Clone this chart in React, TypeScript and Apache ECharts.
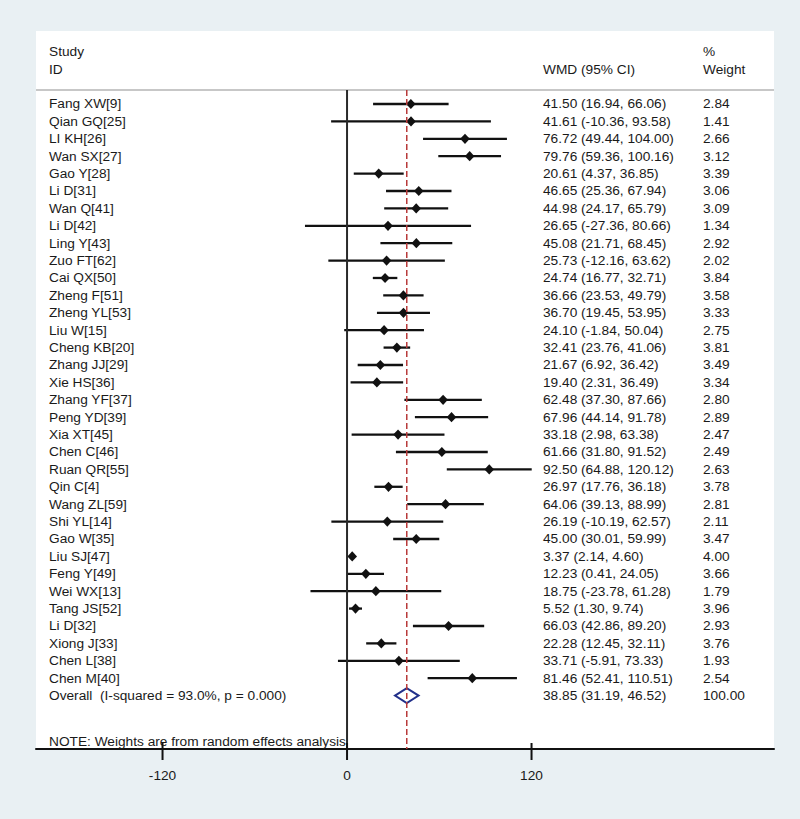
import React, { useEffect, useRef } from "react";
import * as echarts from "echarts";

const studies = [
  "Fang XW[9]", "Qian GQ[25]", "LI KH[26]", "Wan SX[27]", "Gao Y[28]", "Li D[31]",
  "Wan Q[41]", "Li D[42]", "Ling Y[43]", "Zuo FT[62]", "Cai QX[50]", "Zheng F[51]",
  "Zheng YL[53]", "Liu W[15]", "Cheng KB[20]", "Zhang JJ[29]", "Xie HS[36]", "Zhang YF[37]",
  "Peng YD[39]", "Xia XT[45]", "Chen C[46]", "Ruan QR[55]", "Qin C[4]", "Wang ZL[59]",
  "Shi YL[14]", "Gao W[35]", "Liu SJ[47]", "Feng Y[49]", "Wei WX[13]", "Tang JS[52]",
  "Li D[32]", "Xiong J[33]", "Chen L[38]", "Chen M[40]",
];
const wmd = [
  41.5, 41.61, 76.72, 79.76, 20.61, 46.65, 44.98, 26.65, 45.08, 25.73, 24.74, 36.66,
  36.7, 24.1, 32.41, 21.67, 19.4, 62.48, 67.96, 33.18, 61.66, 92.5, 26.97, 64.06,
  26.19, 45.0, 3.37, 12.23, 18.75, 5.52, 66.03, 22.28, 33.71, 81.46,
];
const lower = [
  16.94, -10.36, 49.44, 59.36, 4.37, 25.36, 24.17, -27.36, 21.71, -12.16, 16.77, 23.53,
  19.45, -1.84, 23.76, 6.92, 2.31, 37.3, 44.14, 2.98, 31.8, 64.88, 17.76, 39.13,
  -10.19, 30.01, 2.14, 0.41, -23.78, 1.3, 42.86, 12.45, -5.91, 52.41,
];
const upper = [
  66.06, 93.58, 104.0, 100.16, 36.85, 67.94, 65.79, 80.66, 68.45, 63.62, 32.71, 49.79,
  53.95, 50.04, 41.06, 36.42, 36.49, 87.66, 91.78, 63.38, 91.52, 120.12, 36.18, 88.99,
  62.57, 59.99, 4.6, 24.05, 61.28, 9.74, 89.2, 32.11, 73.33, 110.51,
];
const weights = [
  2.84, 1.41, 2.66, 3.12, 3.39, 3.06, 3.09, 1.34, 2.92, 2.02, 3.84, 3.58,
  3.33, 2.75, 3.81, 3.49, 3.34, 2.8, 2.89, 2.47, 2.49, 2.63, 3.78, 2.81,
  2.11, 3.47, 4.0, 3.66, 1.79, 3.96, 2.93, 3.76, 1.93, 2.54,
];
const overallLabel = "Overall  (I-squared = 93.0%, p = 0.000)";
const overallWmd = 38.85;
const overallLower = 31.19;
const overallUpper = 46.52;
const overallWeight = 100.0;
const noteText = "NOTE: Weights are from random effects analysis";
const xTicks = [-120, 0, 120];

const FONT = "'Liberation Sans', Arial, Helvetica, sans-serif";
const FS = 13.7;
const TXT = "#1a1a1a";
const X_MIN = -202.3;
const X_MAX = 277.7;
const Y_MIN = -4.195;
const Y_MAX = 37.07;
const HEADER_ROW = -0.8;
const NOTE_ROW = 36.62;
const COL_STUDY = 49;
const COL_WMD = 543;
const COL_W = 703;

const fmt = (v: number) => v.toFixed(2);

function txt(x: number, y: number, text: string) {
  return {
    type: "text",
    x,
    y,
    silent: true,
    style: {
      text,
      fill: TXT,
      fontSize: FS,
      fontFamily: FONT,
      align: "left",
      verticalAlign: "middle",
    },
  };
}

export default function App() {
  const ref = useRef<HTMLDivElement>(null);
  useEffect(() => {
    if (!ref.current) return;
    const chart = echarts.init(ref.current, undefined, { renderer: "svg" });
    const studyData = studies.map((_, i) => [i, lower[i], upper[i], wmd[i]]);
    const overallRow = studies.length;

    chart.setOption({
      animation: false,
      backgroundColor: "#e9f0f3",
      grid: {
        left: 36,
        right: 26,
        top: 31,
        bottom: 70,
        show: true,
        backgroundColor: "#ffffff",
        borderWidth: 0,
      },
      xAxis: {
        type: "value",
        min: X_MIN,
        max: X_MAX,
        splitLine: { show: false },
        axisLine: { show: true, onZero: false, lineStyle: { color: "#111", width: 2 } },
        axisTick: { show: false },
        axisLabel: {
          customValues: xTicks,
          margin: 19,
          color: TXT,
          fontSize: FS,
          fontFamily: FONT,
        },
      },
      yAxis: {
        type: "value",
        inverse: true,
        min: Y_MIN,
        max: Y_MAX,
        show: false,
      },
      graphic: [
        txt(COL_STUDY, 51, "Study"),
        txt(COL_STUDY, 69, "ID"),
        txt(COL_WMD, 69, "WMD (95% CI)"),
        txt(COL_W, 51, "%"),
        txt(COL_W, 69, "Weight"),
      ],
      series: [
        {
          type: "line",
          data: [[X_MIN, HEADER_ROW], [X_MAX, HEADER_ROW]],
          symbol: "none",
          lineStyle: { color: "#b4b4b4", width: 1.5 },
          silent: true,
        },
        {
          type: "line",
          data: [[0, HEADER_ROW], [0, Y_MAX]],
          symbol: "none",
          lineStyle: { color: "#2a2a2a", width: 2 },
          silent: true,
        },
        {
          type: "line",
          data: [[overallWmd, HEADER_ROW], [overallWmd, Y_MAX]],
          symbol: "none",
          lineStyle: { color: "#b83a3a", width: 1.5, type: [6, 3] },
          silent: true,
        },
        {
          type: "custom",
          data: xTicks.map((v) => [v, Y_MAX]),
          encode: { x: 0, y: 1 },
          clip: false,
          z: 20,
          renderItem: (params: any, api: any) => {
            const p = api.coord([api.value(0), api.value(1)]);
            return {
              type: "rect",
              shape: { x: p[0] - 1, y: p[1] - 6, width: 2, height: 17 },
              style: { fill: "#111" },
            };
          },
        },
        {
          type: "custom",
          data: studyData,
          encode: { x: [1, 2, 3], y: 0 },
          renderItem: (params: any, api: any) => {
            const i = params.dataIndex;
            const row = api.value(0);
            const p1 = api.coord([api.value(1), row]);
            const p2 = api.coord([api.value(2), row]);
            const pm = api.coord([api.value(3), row]);
            const y = p1[1];
            const r = 4.8;
            return {
              type: "group",
              children: [
                {
                  type: "line",
                  shape: { x1: p1[0], y1: y, x2: p2[0], y2: y },
                  style: { stroke: "#111", lineWidth: 2.3 },
                },
                {
                  type: "polygon",
                  shape: {
                    points: [
                      [pm[0] - r, y],
                      [pm[0], y - r - 0.3],
                      [pm[0] + r, y],
                      [pm[0], y + r + 0.3],
                    ],
                  },
                  style: { fill: "#111", stroke: "none" },
                },
                txt(COL_STUDY, y, studies[i]),
                txt(COL_WMD, y, `${fmt(wmd[i])} (${fmt(lower[i])}, ${fmt(upper[i])})`),
                txt(COL_W, y, fmt(weights[i])),
              ],
            };
          },
        },
        {
          type: "custom",
          data: [[overallRow, overallLower, overallUpper, overallWmd]],
          encode: { x: [1, 2, 3], y: 0 },
          renderItem: (params: any, api: any) => {
            const row = api.value(0);
            const p1 = api.coord([api.value(1), row]);
            const p2 = api.coord([api.value(2), row]);
            const pm = api.coord([api.value(3), row]);
            const y = p1[1];
            const yn = api.coord([0, NOTE_ROW])[1];
            return {
              type: "group",
              children: [
                {
                  type: "polygon",
                  shape: {
                    points: [
                      [p1[0], y],
                      [pm[0], y - 7.5],
                      [p2[0], y],
                      [pm[0], y + 7.5],
                    ],
                  },
                  style: { fill: "#ffffff", stroke: "#22308a", lineWidth: 2 },
                },
                txt(COL_STUDY, y, overallLabel),
                txt(COL_WMD, y, `${fmt(overallWmd)} (${fmt(overallLower)}, ${fmt(overallUpper)})`),
                txt(COL_W, y, fmt(overallWeight)),
                txt(COL_STUDY, yn, noteText),
              ],
            };
          },
        },
      ],
    });
    return () => chart.dispose();
  }, []);

  return (
    <div
      ref={ref}
      style={{ position: "fixed", left: 0, top: 0, width: 800, height: 819 }}
    />
  );
}
